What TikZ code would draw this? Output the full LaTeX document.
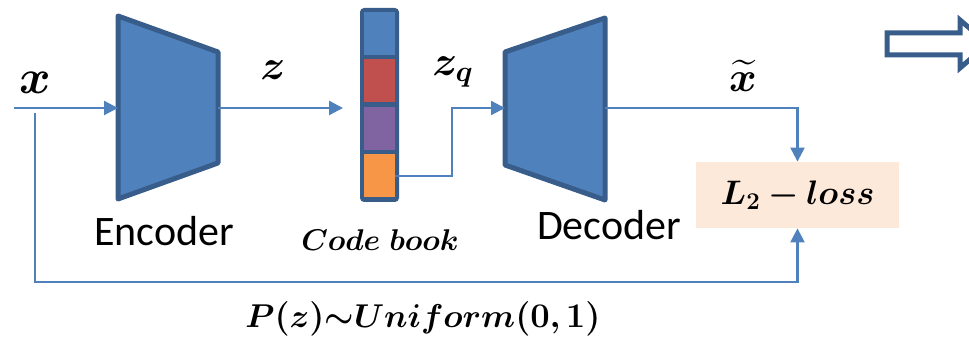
\documentclass[tikz,border=0pt]{standalone}
\usepackage{amsmath,bm}
\usepackage{fontspec}
\setsansfont{Carlito}
% scalable math fonts
\DeclareFontShape{OML}{cmm}{m}{it}{<->cmmi10}{}
\DeclareFontShape{OML}{cmm}{b}{it}{<->cmmib10}{}
\DeclareFontShape{OMS}{cmsy}{m}{n}{<->cmsy10}{}
\DeclareFontShape{OMS}{cmsy}{b}{n}{<->cmbsy10}{}
\DeclareFontShape{OMX}{cmex}{m}{n}{<->cmex10}{}
\usepackage{tikz}
\usetikzlibrary{positioning,arrows.meta}
\definecolor{sBlue}{HTML}{4F81BD}
\definecolor{sEdge}{HTML}{385D8A}
\definecolor{sRed}{HTML}{C0504D}
\definecolor{sPurple}{HTML}{8064A2}
\definecolor{sOrange}{HTML}{F79646}
\definecolor{sPeach}{HTML}{FDE9D9}
\tikzset{
  block/.style={fill=sBlue, draw=sEdge, line width=2.5pt, line join=round},
  wire/.style={draw=sBlue, line width=1.1pt},
  flow/.style={wire, -{Triangle[length=7pt, width=7pt]}},
  cell/.style={minimum width=15.5pt, minimum height=21.5pt, inner sep=0pt},
  lossbox/.style={fill=sPeach, minimum width=101.5pt, minimum height=33pt, inner sep=0pt,
    font=\fontsize{17}{20}\selectfont},
  lbl/.style={font=\sffamily\fontsize{21}{24}\selectfont, text=black},
  sym/.style={font=\fontsize{21}{24}\selectfont, text=black},
}

\begin{document}
\begin{tikzpicture}[x=0.5pt, y=-0.5pt]
\useasboundingbox (0,0) rectangle (969,340);
\clip (0,0) rectangle (969,340);
% encoder and decoder
\draw[block] (118,16) -- (218,52) -- (218,163) -- (118,199) -- cycle;
\draw[block] (505,52) -- (605,18) -- (605,200) -- (505,165) -- cycle;
\coordinate (enc-w) at (118,108);
\coordinate (enc-e) at (218,108);
\coordinate (dec-w) at (505,108);
\coordinate (dec-e) at (605,108);
% code book
\fill[sEdge, rounded corners=2pt] (360,8) rectangle (399,202);
\foreach \c/\y [count=\i] in {sBlue/33.5, sRed/81, sPurple/128.5, sOrange/176}
  \node[cell, fill=\c] (cb\i) at (379.5,\y) {};
% loss
\node[lossbox] (loss) at (797.5,195) {$\bm{L_2-loss}$};
% connectors
\coordinate (x-in) at (14,108);
\coordinate (x-tap) at (35,113);
\coordinate (fb-corner) at (35,282);
\coordinate (z-tip) at (343,108);
\coordinate (zq-bend) at (452,176);
\draw[flow] (x-in) -- (enc-w);
\draw[flow] (enc-e) -- (z-tip);
\draw[flow] (cb4.east) -- (zq-bend) |- (dec-w);
\draw[flow] (dec-e) -| (loss.north);
\draw[flow] (x-tap) -- (fb-corner) -| (loss.south);
% labels
\node[sym, font=\fontsize{24}{26}\selectfont] (x-lbl) at (35,83) {$\bm{x}$};
\node[sym] (z-lbl) at (273,70) {$\bm{z}$};
\node[sym] (zq-lbl) at (453,72) {$\bm{z_q}$};
\node[sym] (xt-lbl) at (743,76) {$\bm{\widetilde{x}}$};
\node[lbl] (enc-lbl) at (164,231) {Encoder};
\node[lbl] (dec-lbl) at (609,225) {Decoder};
\node[font=\fontsize{15}{18}\selectfont] (cb-lbl) at (380,240) {$\bm{Code\ book}$};
\node[font=\fontsize{16.5}{19}\selectfont] (prior) at (423,319) {$\bm{P(z){\sim}Uniform(0,1)}$};
% hollow arrow
\draw[sEdge, line width=2.5pt, fill=white, line join=miter]
  (887,33) -- (960,33) -- (960,20) -- (988,44) -- (960,68) -- (960,55) -- (887,55) -- cycle;
\end{tikzpicture}
\end{document}
